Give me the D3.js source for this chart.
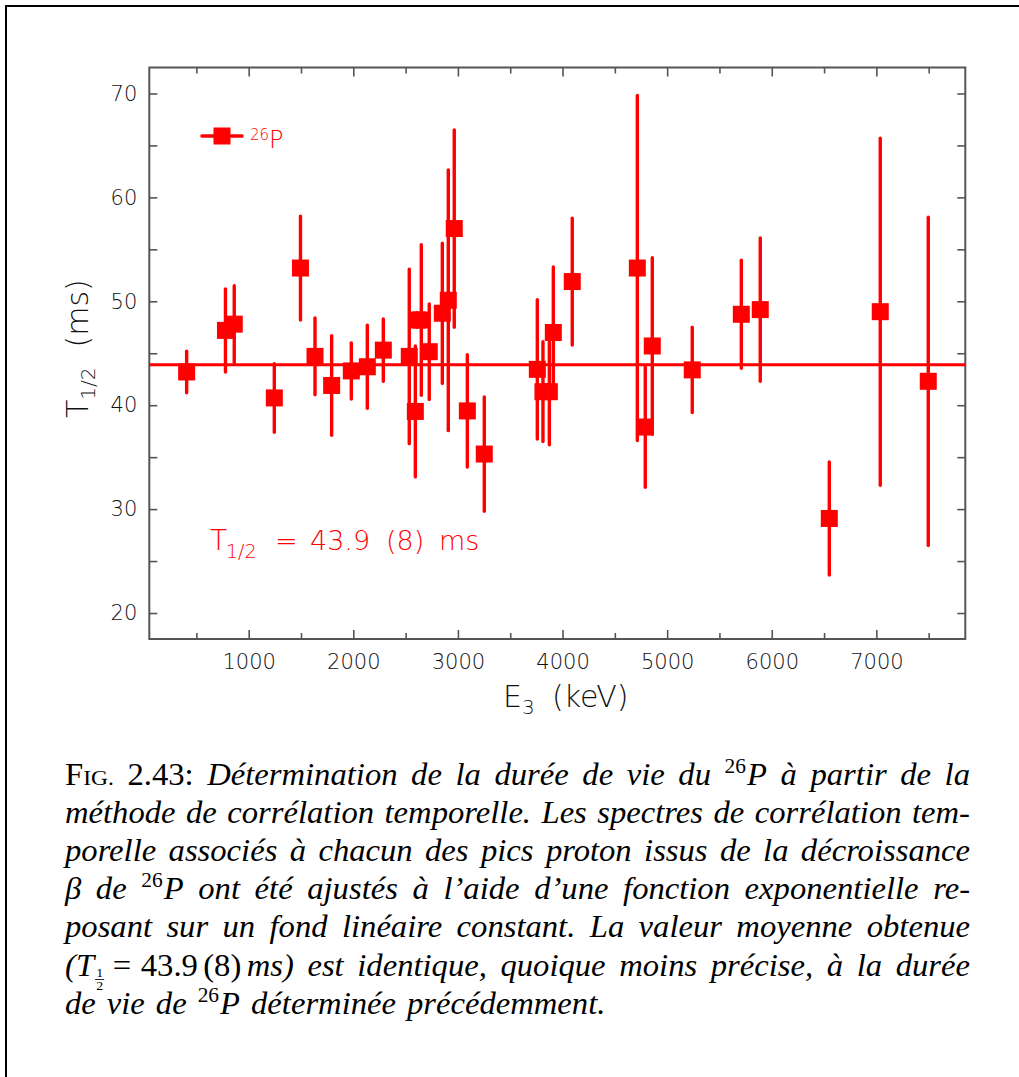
<!DOCTYPE html>
<html>
<head>
<meta charset="utf-8">
<script src="https://cdn.jsdelivr.net/npm/d3@7"></script>
<style>
  body { margin: 0; background: #fff; }
  svg { display: block; }
</style>
</head>
<body>
<div id="chart"></div>
<script>
const width = 1019;
const height = 1077;
const plotBox = {left: 149.3, right: 965.3, top: 67.5, bottom: 639};

// proton energy E3 (keV), half-life T1/2 (ms), symmetric error (ms)
const energies  = [407, 778, 862, 1245, 1495, 1634, 1793, 1981, 2134, 2287,
                   2535, 2593, 2610, 2650, 2726, 2851, 2908, 2965, 3090, 3252,
                   3759, 3813, 3874, 3912, 4093, 4715, 4791, 4858, 5240, 5709,
                   5890, 6550, 7037, 7496];
const halfLives = [43.2, 47.2, 47.8, 40.7, 53.2, 44.7, 41.9, 43.3, 43.7, 45.3,
                   44.7, 39.4, 48.2, 48.2, 45.15, 48.85, 50.1, 57.0, 39.45, 35.3,
                   43.45, 41.3, 41.3, 47.0, 51.9, 53.2, 37.9, 45.7, 43.4, 48.75,
                   49.2, 29.1, 49.0, 42.3];
const errors    = [2.0, 4.0, 3.7, 3.3, 5.0, 3.7, 4.8, 2.7, 4.0, 3.0,
                   8.4, 6.3, 0.7, 7.25, 4.6, 6.75, 12.55, 9.5, 5.4, 5.5,
                   6.7, 4.8, 5.1, 6.3, 6.1, 16.6, 5.8, 8.5, 4.1, 5.2,
                   6.9, 5.45, 16.7, 15.8];
const meanHalfLife = 43.9;

const xDomain = [50, 7850];
const yDomain = [17.5, 72.5];
const xMajorTicks = [1000, 2000, 3000, 4000, 5000, 6000, 7000];
const xMinorTicks = [500, 1500, 2500, 3500, 4500, 5500, 6500, 7500];
const yMajorTicks = [20, 30, 40, 50, 60, 70];
const yMinorTicks = [25, 35, 45, 55, 65];

const captionLines = [
  "{FIG} !2.43: Détermination de la durée de vie du ^26P à partir de la",
  "méthode de corrélation temporelle. Les spectres de corrélation tem-",
  "porelle associés à chacun des pics proton issus de la décroissance",
  "β de ^26P ont été ajustés à l’aide d’une fonction exponentielle re-",
  "posant sur un fond linéaire constant. La valeur moyenne obtenue",
  "{MATH} est identique, quoique moins précise, à la durée",
  "de vie de ^26P déterminée précédemment."
];

const red = "#ff0000";
const axisCol = "#555";
const textCol = "#111";
const sansFont = '"DejaVu Sans", "Liberation Sans", sans-serif';
const serifFont = '"Liberation Serif", "DejaVu Serif", serif';

const svg = d3.select("#chart").append("svg")
  .attr("width", width)
  .attr("height", height)
  .style("background", "#fff");

// page frame (top and left edges only)
svg.append("path")
  .attr("d", `M5,6H${width}M6,5V${height}`)
  .attr("stroke", "#000")
  .attr("stroke-width", 2)
  .attr("fill", "none");

/// Scales ///
const x = d3.scaleLinear().domain(xDomain).range([plotBox.left, plotBox.right]);
const y = d3.scaleLinear().domain(yDomain).range([plotBox.bottom, plotBox.top]);

/// Axes ///
const styleAxis = g => g
  .call(g => g.select(".domain").remove())
  .call(g => g.selectAll(".tick line").attr("stroke", axisCol).attr("stroke-width", 1.6))
  .call(g => g.selectAll("text")
    .attr("fill", textCol)
    .style("font-family", sansFont)
    .style("font-weight", 200)
    .style("font-size", "21px"));

svg.append("g").attr("transform", `translate(0,${plotBox.bottom})`)
  .call(d3.axisBottom(x).tickValues(xMajorTicks).tickSize(-9).tickPadding(15).tickFormat(d3.format("d")))
  .call(styleAxis);
svg.append("g").attr("transform", `translate(0,${plotBox.bottom})`)
  .call(d3.axisBottom(x).tickValues(xMinorTicks).tickSize(-6).tickFormat(""))
  .call(styleAxis);
svg.append("g").attr("transform", `translate(0,${plotBox.top})`)
  .call(d3.axisTop(x).tickValues(xMajorTicks).tickSize(-9).tickFormat(""))
  .call(styleAxis);
svg.append("g").attr("transform", `translate(0,${plotBox.top})`)
  .call(d3.axisTop(x).tickValues(xMinorTicks).tickSize(-6).tickFormat(""))
  .call(styleAxis);
svg.append("g").attr("transform", `translate(${plotBox.left},0)`)
  .call(d3.axisLeft(y).tickValues(yMajorTicks).tickSize(-8).tickPadding(12).tickFormat(d3.format("d")))
  .call(styleAxis);
svg.append("g").attr("transform", `translate(${plotBox.left},0)`)
  .call(d3.axisLeft(y).tickValues(yMinorTicks).tickSize(-8).tickFormat(""))
  .call(styleAxis);
svg.append("g").attr("transform", `translate(${plotBox.right},0)`)
  .call(d3.axisRight(y).tickValues(yMajorTicks.concat(yMinorTicks)).tickSize(-8).tickFormat(""))
  .call(styleAxis);

// plot frame
svg.append("rect")
  .attr("x", plotBox.left).attr("y", plotBox.top)
  .attr("width", plotBox.right - plotBox.left)
  .attr("height", plotBox.bottom - plotBox.top)
  .attr("fill", "none")
  .attr("stroke", axisCol)
  .attr("stroke-width", 2);

/// Axis titles ///
const xTitle = svg.append("text")
  .attr("x", 503).attr("y", 707)
  .attr("fill", textCol)
  .style("font-family", sansFont).style("font-weight", 200)
  .style("font-size", "30px");
xTitle.append("tspan").text("E");
xTitle.append("tspan").attr("dy", 7).style("font-size", "20px").text("3");
xTitle.append("tspan").attr("x", 552).attr("dy", -7).text("(keV)");

const yTitle = svg.append("text")
  .attr("transform", "translate(88,418) rotate(-90)")
  .attr("fill", textCol)
  .style("font-family", sansFont).style("font-weight", 200)
  .style("font-size", "30px");
yTitle.append("tspan").text("T");
yTitle.append("tspan").attr("dy", 7).style("font-size", "20px").text("1/2");
yTitle.append("tspan").attr("dx", 20).attr("dy", -7).text("(ms)");

/// Data ///
const points = energies.map((e, i) => ({e: e, t: halfLives[i], err: errors[i]}));
const plot = svg.append("g");

plot.append("line")
  .attr("x1", x.range()[0]).attr("x2", x.range()[1])
  .attr("y1", y(meanHalfLife)).attr("y2", y(meanHalfLife))
  .attr("stroke", red).attr("stroke-width", 3);

plot.selectAll(".err-bar")
  .data(points)
  .join("line")
  .classed("err-bar", true)
  .attr("x1", d => x(d.e)).attr("x2", d => x(d.e))
  .attr("y1", d => y(d.t + d.err)).attr("y2", d => y(d.t - d.err))
  .attr("stroke", red)
  .attr("stroke-width", 3.4)
  .attr("stroke-linecap", "round");

const sq = 17;
plot.selectAll(".marker")
  .data(points)
  .join("rect")
  .classed("marker", true)
  .attr("x", d => x(d.e) - sq / 2)
  .attr("y", d => y(d.t) - sq / 2)
  .attr("width", sq).attr("height", sq)
  .attr("fill", red);

/// Legend ///
const legend = svg.append("g").attr("transform", "translate(222,136)");
legend.append("line").attr("x1", -20).attr("x2", 20)
  .attr("stroke", red).attr("stroke-width", 3.6).attr("stroke-linecap", "round");
legend.append("rect").attr("x", -sq / 2).attr("y", -sq / 2)
  .attr("width", sq).attr("height", sq).attr("fill", red);
const legText = legend.append("text")
  .attr("x", 28).attr("y", 4)
  .attr("fill", red)
  .style("font-family", sansFont).style("font-weight", 200)
  .style("font-size", "15px");
legText.append("tspan").text("26");
legText.append("tspan").attr("dy", 8).style("font-size", "24px").text("P");

/// Fit result ///
const fitText = svg.append("g")
  .attr("fill", red)
  .style("font-family", sansFont).style("font-weight", 200);
fitText.append("text").attr("x", 210).attr("y", 550).style("font-size", "28px").text("T");
fitText.append("text").attr("x", 226).attr("y", 558).style("font-size", "19px").text("1/2");
const fitMain = fitText.append("text").attr("y", 550).style("font-size", "27px");
[["=", 275], ["43.9", 310], ["(8)", 386], ["ms", 439]].forEach(p =>
  fitMain.append("tspan").attr("x", p[1]).text(p[0]));

/// Caption ///
const capLeft = 65, capRight = 970, capBase = 785, capLead = 38.1, capSize = 30.5, capStretch = 1.07;
const cap = svg.append("g")
  .attr("fill", "#000")
  .style("font-family", serifFont);

function addSeg(g, xPos, txt, opt) {
  const t = g.append("text")
    .attr("x", xPos).attr("y", opt.dy || 0)
    .style("font-size", (opt.size || capSize) + "px")
    .style("font-style", opt.italic ? "italic" : "normal")
    .text(txt);
  return t.node().getComputedTextLength();
}

function buildWord(g, word) {
  let w = 0;
  if (word === "{FIG}") {
    w += addSeg(g, w, "F", {});
    w += addSeg(g, w, "IG.", {size: 22});
    return w;
  }
  if (word === "{MATH}") {
    w += addSeg(g, w, "(", {italic: true});
    w += addSeg(g, w, "T", {italic: true}) + 1;
    const fw = addSeg(g, w + 1, "1", {size: 13, dy: 1});
    addSeg(g, w + 1, "2", {size: 13, dy: 15});
    g.append("line").attr("x1", w).attr("x2", w + fw + 2)
      .attr("y1", 4).attr("y2", 4).attr("stroke", "#000").attr("stroke-width", 0.8);
    w += fw + 2 + 8;
    w += addSeg(g, w, "=", {}) + 9;
    w += addSeg(g, w, "43.9", {}) + 5;
    w += addSeg(g, w, "(8)", {}) + 5;
    w += addSeg(g, w, "ms)", {italic: true});
    return w;
  }
  if (word.startsWith("!")) return addSeg(g, 0, word.slice(1), {});
  if (word.startsWith("^")) {
    const m = word.match(/^\^(\d+)(.*)$/);
    w += addSeg(g, w, m[1], {size: 20, dy: -12}) + 1;
    w += addSeg(g, w, m[2], {italic: true});
    return w;
  }
  return addSeg(g, 0, word, {italic: true});
}

captionLines.forEach((line, li) => {
  const row = cap.append("g").attr("transform", `translate(0,${capBase + li * capLead})`);
  const words = line.split(" ").map(wd => {
    const outer = row.append("g");
    const inner = outer.append("g").attr("transform", `scale(${capStretch},1)`);
    return {g: outer, w: buildWord(inner, wd) * capStretch};
  });
  const total = d3.sum(words, d => d.w);
  const last = li === captionLines.length - 1;
  const gap = last ? 11 : (capRight - capLeft - total) / (words.length - 1);
  let cx = capLeft;
  words.forEach(d => {
    d.g.attr("transform", `translate(${cx},0)`);
    cx += d.w + gap;
  });
});
</script>
</body>
</html>
